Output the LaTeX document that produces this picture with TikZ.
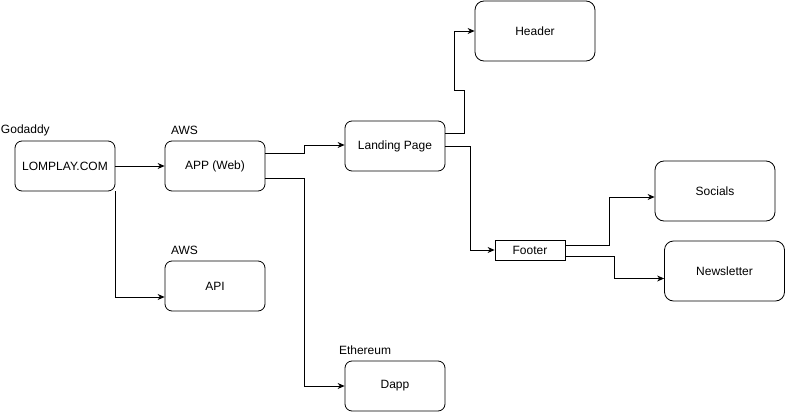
\documentclass[tikz,border=0pt]{standalone}
\usepackage{fontspec}
\setmainfont{Liberation Sans}
\usetikzlibrary{arrows.meta}

\begin{document}
\begin{tikzpicture}[x=1pt, y=-1pt, >={Stealth[length=7pt,width=6pt]}, line width=0.8pt,
	every node/.style={font=\fontsize{12}{14}\selectfont},
	box/.style={draw, rounded corners=7pt, minimum width=100pt, minimum height=50pt, inner sep=0pt},
	bigbox/.style={box, rounded corners=9pt, minimum width=120pt, minimum height=60pt},
	lbl/.style={anchor=west, inner sep=0pt}]
	\useasboundingbox (0,0) rectangle (785,412);
	% Các khối chính
	\node[box] (lomplay) at (65,166) {LOMPLAY.COM};
	\node[box] (app) at (215,166) {APP (Web)};
	\node[box] (api) at (215,286) {API};
	\node[box] (landing) at (395,146) {Landing Page};
	\node[box] (dapp) at (395,386) {Dapp};
	\node[bigbox] (header) at (535,31) {Header};
	\node[draw, minimum width=70pt, minimum height=20pt, inner sep=0pt] (footer) at (530,250) {Footer};
	\node[bigbox] (socials) at (715,191) {Socials};
	\node[bigbox] (newsletter) at (724.5,271) {Newsletter};
	% Nhãn nhà cung cấp
	\node[lbl] (lgodaddy) at ([shift={(-14,-10)}]lomplay.north west) {Godaddy};
	\node[lbl] (lawsapp) at ([shift={(6,-10)}]app.north west) {AWS};
	\node[lbl] (lawsapi) at ([shift={(6,-10)}]api.north west) {AWS};
	\node[lbl] (leth) at ([shift={(-6,-10)}]dapp.north west) {Ethereum};
	% Các mũi tên nối
	\draw[->] (lomplay) -- (app);
	\draw[->] (lomplay.south east) |- ([yshift=-11pt]api.west);
	\draw[->] ([yshift=13pt]app.east) -- ++(39,0) |- ([yshift=1pt]landing.west);
	\draw[->] ([yshift=-12pt]app.east) -- ++(39,0) |- (dapp.west);
	\draw[->] ([yshift=13pt]landing.east) -- ++(19,0) -- ++(0,-43) -- ++(-10,0) |- (header.west);
	\draw[->] (landing.east) -- ++(25,0) |- (footer.west);
	\draw[->] ([yshift=5pt]footer.east) -- ++(44,0) |- ([yshift=-6pt]socials.west);
	\draw[->] ([yshift=-6pt]footer.east) -- ++(49,0) |- ([yshift=-7.5pt]newsletter.west);
\end{tikzpicture}
\end{document}
